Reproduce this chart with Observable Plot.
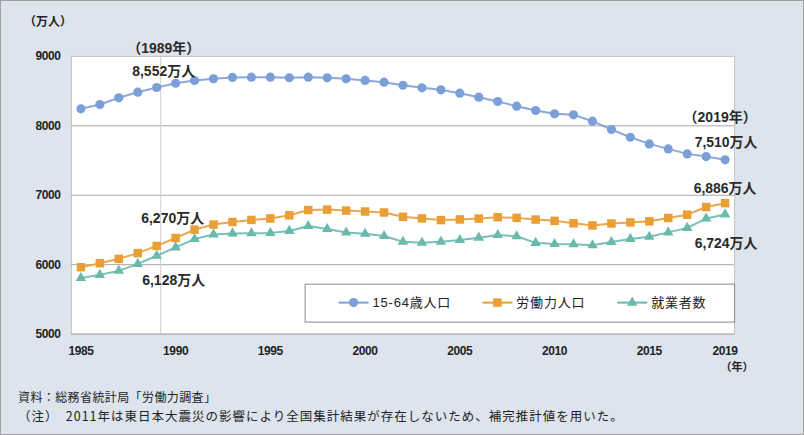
<!DOCTYPE html>
<html><head><meta charset="utf-8">
<script src="https://cdn.jsdelivr.net/npm/d3@7"></script>
<script src="https://cdn.jsdelivr.net/npm/@observablehq/plot@0.6"></script>
<style>
body{margin:0;background:#fff;}
#wrap{position:relative;width:804px;height:435px;background:#dde4ed;box-sizing:border-box;border:1px solid #a0a0a0;overflow:hidden;font-family:"Liberation Sans","Noto Sans CJK JP",sans-serif;}
#chart{position:absolute;left:-1px;top:-1px;}
.note{position:absolute;left:17px;color:#222;white-space:nowrap;line-height:14px;height:14px;font-family:"Noto Sans CJK JP",sans-serif;}
</style></head><body>
<div id="wrap"><div id="chart"></div>
<div class="note" style="top:389px;font-size:12px;letter-spacing:0.4px">資料：総務省統計局「労働力調査」</div>
<div class="note" style="top:408px;font-size:12.5px;letter-spacing:1px">（注）　2011年は東日本大震災の影響により全国集計結果が存在しないため、補完推計値を用いた。</div>
</div>
<script>
const years = [1985,1986,1987,1988,1989,1990,1991,1992,1993,1994,1995,1996,1997,1998,1999,2000,2001,2002,2003,2004,2005,2006,2007,2008,2009,2010,2011,2012,2013,2014,2015,2016,2017,2018,2019];
const pop1564 = [8245,8307,8404,8485,8552,8614,8654,8678,8697,8701,8701,8693,8701,8693,8678,8654,8629,8585,8548,8519,8470,8413,8351,8283,8221,8173,8159,8067,7947,7836,7740,7668,7596,7557,7510];
const labourForce = [5963,6020,6084,6166,6270,6384,6505,6578,6615,6645,6666,6711,6787,6793,6779,6766,6752,6689,6666,6642,6651,6664,6684,6674,6650,6632,6596,6565,6593,6609,6625,6673,6720,6830,6886];
const employed = [5807,5853,5911,6011,6128,6249,6369,6436,6450,6453,6457,6486,6557,6514,6462,6446,6412,6330,6316,6329,6356,6389,6427,6409,6314,6298,6293,6280,6326,6371,6401,6465,6530,6664,6724];
const seriesNames = ["15-64歳人口","労働力人口","就業者数"];
const seriesColors = ["#7d9fd8","#e99e36","#6ab9ad"];
const seriesSymbols = ["circle","square","triangle"];
const xTicks = [1985,1990,1995,2000,2005,2010,2015,2019];
const yTicks = [5000,6000,7000,8000,9000];
const markYear = 1989;
const lastYear = 2019;

const allSeries = [pop1564, labourForce, employed];
const rows = [];
allSeries.forEach((vals, s) => vals.forEach((v, i) => rows.push({year: years[i], value: v, s})));

const fmt = d3.format(",");
const iMark = years.indexOf(markYear), iLast = years.indexOf(lastYear);
const annos = [
  {year: markYear, value: pop1564[iMark], text: `（${markYear}年）`, dx: 7, dy: -39},
  {year: markYear, value: pop1564[iMark], text: fmt(pop1564[iMark]) + "万人", dx: 7, dy: -16},
  {year: lastYear, value: pop1564[iLast], text: `（${lastYear}年）`, dx: -5, dy: -42},
  {year: lastYear, value: pop1564[iLast], text: fmt(pop1564[iLast]) + "万人", dx: 1, dy: -17},
  {year: markYear, value: labourForce[iMark], text: fmt(labourForce[iMark]) + "万人", dx: 16, dy: -27},
  {year: markYear, value: employed[iMark], text: fmt(employed[iMark]) + "万人", dx: 17, dy: 25},
  {year: lastYear, value: labourForce[iLast], text: fmt(labourForce[iLast]) + "万人", dx: 0, dy: -15},
  {year: lastYear, value: employed[iLast], text: fmt(employed[iLast]) + "万人", dx: 1, dy: 29}
];

const symR = {circle: 4.6, square: 4.8, triangle: 3.9};
const seriesMarks = [];
allSeries.forEach((vals, s) => {
  const d = rows.filter(r => r.s === s);
  seriesMarks.push(Plot.line(d, {x: "year", y: "value", stroke: seriesColors[s], strokeWidth: 2, strokeOpacity: 0.9}));
  seriesMarks.push(Plot.dot(d, {x: "year", y: "value", fill: seriesColors[s], symbol: seriesSymbols[s], r: symR[seriesSymbols[s]], stroke: "none"}));
});

const chart = Plot.plot({
  width: 804, height: 380,
  marginLeft: 71, marginRight: 69, marginTop: 56, marginBottom: 46,
  style: {background: "transparent", fontFamily: '"Liberation Sans","Noto Sans CJK JP",sans-serif', fontSize: "12px", color: "#222", overflow: "visible"},
  x: {type: "linear", domain: [1984.5, 2019.5], ticks: xTicks, tickFormat: d => String(d), tickSize: 0, tickPadding: 12, label: null},
  y: {domain: [5000, 9000], ticks: yTicks, tickFormat: d => String(d), tickSize: 0, tickPadding: 11, label: null},
  marks: [
    Plot.frame({fill: "white", stroke: "#c4c4c4"}),
    Plot.ruleY(yTicks.slice(1, -1), {stroke: "#a9a9a9"}),
    Plot.ruleY([yTicks[0]], {stroke: "#a9a9a9"}),
    Plot.ruleX([markYear], {dx: 4, stroke: "#cfcfcf"}),
    ...seriesMarks,
    Plot.text(annos, {x: "year", y: "value", text: "text", fontSize: 14, fontWeight: "bold", fill: "#2a2a2a"})
  ]
});
document.getElementById("chart").appendChild(chart);
const svg = d3.select(chart);
svg.selectAll("g[aria-label='text'] text").each(function(d, i) {
  const a = annos[i];
  const t = d3.select(this);
  t.attr("transform", (t.attr("transform") || "") + ` translate(${a.dx},${a.dy})`);
});
svg.selectAll("g[aria-label='x-axis tick label'] text, g[aria-label='y-axis tick label'] text")
  .attr("font-weight", "bold").attr("letter-spacing", "-0.4px").attr("font-size", "12px");

svg.append("text").attr("x", 48).attr("y", 26).attr("text-anchor", "middle").attr("font-size", 12).attr("font-weight","bold").attr("fill", "#222").text("（万人）");
svg.append("text").attr("x", 738).attr("y", 371).attr("text-anchor", "middle").attr("font-size", 11).attr("font-weight","bold").attr("fill", "#222").text("（年）");

const lg = svg.append("g");
lg.append("rect").attr("x", 305.5).attr("y", 284.5).attr("width", 430).attr("height", 38).attr("fill", "white").attr("stroke", "#8a8a8a");
const itemX = [339, 483, 618];
seriesNames.forEach((name, s) => {
  const x0 = itemX[s], cy = 303;
  lg.append("line").attr("x1", x0).attr("x2", x0 + 30).attr("y1", cy).attr("y2", cy).attr("stroke", seriesColors[s]).attr("stroke-width", 2);
  const sym = {circle: d3.symbolCircle, square: d3.symbolSquare, triangle: d3.symbolTriangle}[seriesSymbols[s]];
  const r = symR[seriesSymbols[s]];
  lg.append("path").attr("d", d3.symbol(sym, Math.PI * r * r)()).attr("transform", `translate(${x0 + 15},${cy})`).attr("fill", seriesColors[s]);
  lg.append("text").attr("x", x0 + 34).attr("y", cy).attr("dy", "0.35em").attr("text-anchor", "start").attr("font-size", 13).attr("letter-spacing", "0.8px").attr("fill", "#222").text(name);
});
</script>
</body></html>
